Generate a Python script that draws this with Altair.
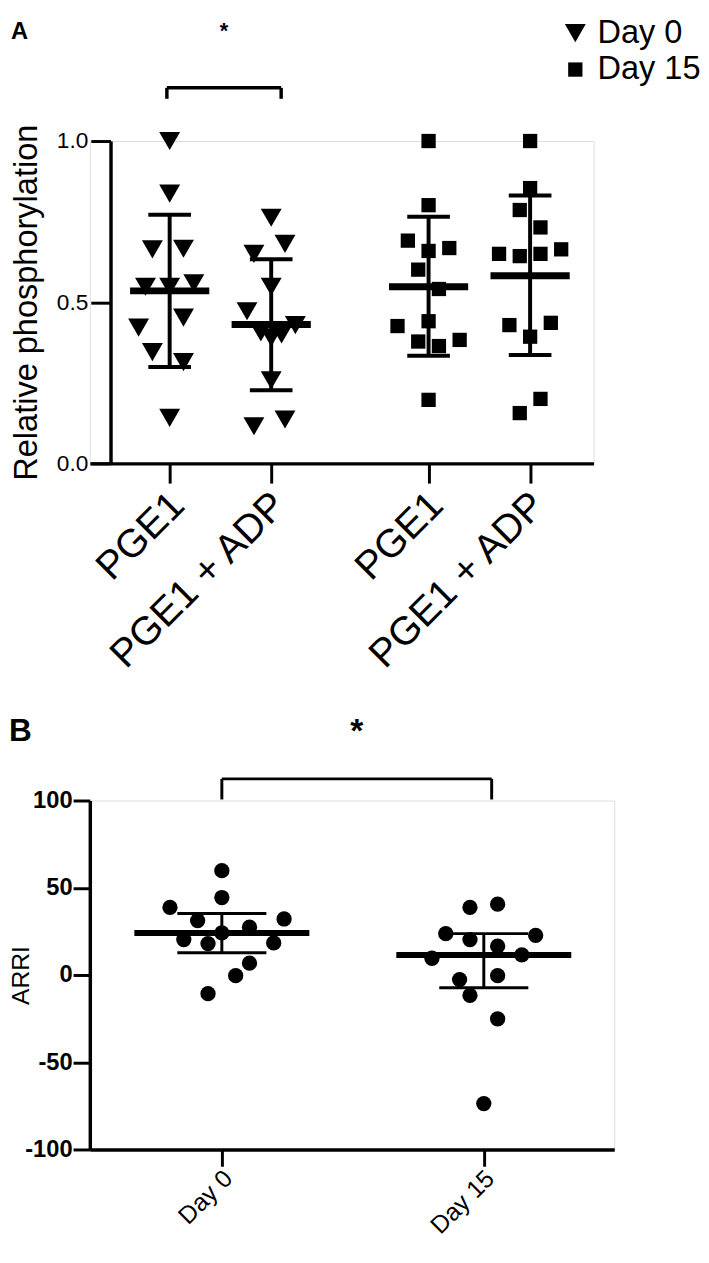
import altair as alt
import pandas as pd

FONT = "Liberation Sans"

# ---------------- Panel A : relative phosphorylation ----------------
A_LABELS = ["PGE1", "PGE1 + ADP", "PGE1", "PGE1 + ADP"]
A_DAYS = ["Day 0", "Day 0", "Day 15", "Day 15"]

A_D0_PGE1 = [1.00, 0.837, 0.664, 0.666, 0.548, 0.548, 0.559, 0.452, 0.421, 0.345, 0.314, 0.141]
A_D0_PGE1_ADP = [0.762, 0.681, 0.650, 0.548, 0.472, 0.429, 0.406, 0.390, 0.400, 0.258, 0.115, 0.136]
A_D15_PGE1 = [1.00, 0.801, 0.691, 0.668, 0.659, 0.601, 0.541, 0.426, 0.441, 0.378, 0.364, 0.383, 0.197]
A_D15_PGE1_ADP = [1.00, 0.854, 0.786, 0.732, 0.650, 0.643, 0.650, 0.664, 0.429, 0.436, 0.393, 0.200, 0.156]

# horizontal scatter slot of each point (scatter-dot-plot spreading)
A_D0_PGE1_SPREAD = [0, 0, -5, 4, -7, 0, 7, 4, -9, -5, 4, 0]
A_D0_PGE1_ADP_SPREAD = [0, 4, -5, 0, -7, 7, -3, 0, 3, 0, -5, 4]
A_D15_PGE1_SPREAD = [0, 0, -6, 6, 0, -3, 3, -9, 0, -3, 3, 9, 0]
A_D15_PGE1_ADP_SPREAD = [0, 0, -3, 3, -9, -3, 3, 9, -6, 6, 0, 3, -3]

A_MEAN = [0.535, 0.431, 0.548, 0.582]
A_SD_LOW = [0.299, 0.227, 0.334, 0.336]
A_SD_HIGH = [0.771, 0.633, 0.765, 0.831]

# ---------------- Panel B : ARRI ----------------
B_LABELS = ["Day 0", "Day 15"]
B_DAY0 = [59.8, 44.4, 38.7, 31.2, 32.1, 27.4, 24.1, 20.3, 18.0, 18.4, 6.8, -0.4, -10.7]
B_DAY15 = [38.7, 40.6, 23.7, 22.7, 20.3, 16.5, 9.6, 11.5, -0.4, -2.6, -11.7, -25.2, -73.7]
B_DAY0_SPREAD = [0, 0, -15, -7, 18, 8, 0, -11, -4, 15, 8, 4, -4]
B_DAY15_SPREAD = [-4, 4, -11, 15, -4, 4, -15, 11, 4, -7, -4, 4, 0]
B_MEDIAN = [24.1, 11.5]
B_Q1 = [12.8, -7.3]
B_Q3 = [35.3, 23.7]

# ---------------- layout constants ----------------
A_POS = [1.0, 2.0, 3.55, 4.55]
A_DOMAIN = [0.2136, 5.1748]
A_STEP = 0.034
A_MEAN_HALF = 0.39
A_CAP_HALF = 0.21

B_POS = [1.0, 2.0]
B_DOMAIN = [0.496, 2.498]
B_STEP = 0.0132
B_MED_HALF = 0.334
B_CAP_HALF = 0.17

# ---------------- build tables ----------------
rows = []
for g, (vals, spr) in enumerate([(A_D0_PGE1, A_D0_PGE1_SPREAD), (A_D0_PGE1_ADP, A_D0_PGE1_ADP_SPREAD),
                                  (A_D15_PGE1, A_D15_PGE1_SPREAD), (A_D15_PGE1_ADP, A_D15_PGE1_ADP_SPREAD)]):
    for v, s in zip(vals, spr):
        rows.append({"x": A_POS[g] + s * A_STEP, "value": v, "day": A_DAYS[g]})
dfA = pd.DataFrame(rows)

sumA = pd.DataFrame({
    "pos": A_POS, "mean": A_MEAN, "lo": A_SD_LOW, "hi": A_SD_HIGH,
    "mL": [p - A_MEAN_HALF for p in A_POS], "mR": [p + A_MEAN_HALF for p in A_POS],
    "cL": [p - A_CAP_HALF for p in A_POS], "cR": [p + A_CAP_HALF for p in A_POS],
})

rowsB = []
for g, (vals, spr) in enumerate([(B_DAY0, B_DAY0_SPREAD), (B_DAY15, B_DAY15_SPREAD)]):
    for v, s in zip(vals, spr):
        rowsB.append({"x": B_POS[g] + s * B_STEP, "value": v})
dfB = pd.DataFrame(rowsB)

sumB = pd.DataFrame({
    "pos": B_POS, "med": B_MEDIAN, "lo": B_Q1, "hi": B_Q3,
    "mL": [p - B_MED_HALF for p in B_POS], "mR": [p + B_MED_HALF for p in B_POS],
    "cL": [p - B_CAP_HALF for p in B_POS], "cR": [p + B_CAP_HALF for p in B_POS],
})

# significance brackets
BRACKET_A_X = [0.9725, 2.098]
BRACKET_A_Y = [1.131, 1.165]
STAR_A = (1.534, 1.34)
BRACKET_B_X = [1.0, 2.03]
BRACKET_B_Y = [100.6, 112.4]
STAR_B = (1.515, 139)


def bracket_df(xs, ys):
    return pd.DataFrame({
        "x": [xs[0], xs[0], xs[1]], "x2": [xs[1], xs[0], xs[1]],
        "y": [ys[1], ys[0], ys[0]], "y2": [ys[1], ys[1], ys[1]],
    })


def label_expr(pos, labels):
    expr = "''"
    for p, l in reversed(list(zip(pos, labels))):
        expr = f"abs(datum.value - {p}) < 0.01 ? '{l}' : ({expr})"
    return expr


LEG = alt.Legend(title=None, orient="none", legendX=476, legendY=-126,
                 labelFontSize=33, labelFont=FONT, labelColor="black",
                 symbolFillColor="black", symbolStrokeColor="black",
                 rowPadding=3, labelOffset=6, padding=0)

# ---------------- Panel A ----------------
axA_x = alt.Axis(values=A_POS, labelExpr=label_expr(A_POS, A_LABELS), title=None,
                 labelAngle=-45, labelAlign="right", labelBaseline="middle",
                 labelOverlap=False, labelBound=False, labelFlush=False, labelLimit=500,
                 labelFontSize=40, labelFont=FONT, labelColor="black", labelPadding=16, labelOffset=8,
                 domainColor="black", domainWidth=3.5, tickColor="black", tickWidth=3,
                 tickSize=20, grid=False)
axA_y = alt.Axis(values=[0, 0.5, 1.0], format=".1f", title="Relative phosphorylation", offset=-21,
                 titleFontSize=33, titleFont=FONT, titleFontWeight="normal", titleColor="black",
                 titleX=-85, titleY=163.5, titleAngle=-90, titleAlign="center", titleBaseline="middle",
                 labelFontSize=23, labelFont=FONT, labelColor="black",
                 labelPadding=3, labelOverlap=False, domainColor="black", domainWidth=3.5,
                 tickColor="black", tickWidth=3, tickSize=20, grid=False)

xA = alt.X("x:Q", scale=alt.Scale(domain=A_DOMAIN, nice=False, zero=False), axis=axA_x)
yA = alt.Y("value:Q", scale=alt.Scale(domain=[0, 1], nice=False), axis=axA_y)

ptsA = alt.Chart(dfA).mark_point(filled=True, opacity=1, color="black", clip=False).encode(
    x=xA, y=yA,
    shape=alt.Shape("day:N", scale=alt.Scale(domain=["Day 0", "Day 15"], range=["triangle-down", "square"]),
                    legend=LEG),
    size=alt.Size("day:N", scale=alt.Scale(domain=["Day 0", "Day 15"], range=[450, 210]), legend=LEG),
)

baseSA = alt.Chart(sumA)
whiskA = baseSA.mark_rule(color="black", strokeWidth=4).encode(x=alt.X("pos:Q"), y=alt.Y("lo:Q"), y2="hi:Q")
capLoA = baseSA.mark_rule(color="black", strokeWidth=4).encode(x=alt.X("cL:Q"), x2="cR:Q", y=alt.Y("lo:Q"))
capHiA = baseSA.mark_rule(color="black", strokeWidth=4).encode(x=alt.X("cL:Q"), x2="cR:Q", y=alt.Y("hi:Q"))
meanA = baseSA.mark_rule(color="black", strokeWidth=7).encode(x=alt.X("mL:Q"), x2="mR:Q", y=alt.Y("mean:Q"))

brA = alt.Chart(bracket_df(BRACKET_A_X, BRACKET_A_Y)).mark_rule(color="black", strokeWidth=3.5, clip=False).encode(
    x="x:Q", x2="x2:Q", y="y:Q", y2="y2:Q")
starA = alt.Chart(pd.DataFrame({"x": [STAR_A[0]], "y": [STAR_A[1]], "t": ["*"]})).mark_text(
    font=FONT, fontSize=22, fontWeight="bold", color="black", baseline="middle", clip=False).encode(
    x="x:Q", y="y:Q", text="t:N")

panelA = alt.layer(whiskA, capLoA, capHiA, meanA, ptsA, brA, starA).properties(
    width=511, height=327,
    title=alt.Title("A", anchor="start", frame="bounds", fontSize=24, font=FONT, fontWeight="bold",
                    color="black", offset=-24),
)

# ---------------- Panel B ----------------
axB_x = alt.Axis(values=B_POS, labelExpr=label_expr(B_POS, B_LABELS), title=None,
                 labelAngle=-45, labelAlign="right", labelBaseline="middle",
                 labelOverlap=False, labelBound=False, labelFlush=False, labelLimit=500,
                 labelFontSize=25, labelFont=FONT, labelColor="black", labelPadding=8, labelOffset=6,
                 domainColor="black", domainWidth=3.5, tickColor="black", tickWidth=3,
                 tickSize=17, grid=False)
axB_y = alt.Axis(values=[-100, -50, 0, 50, 100], title="ARRI",
                 labelExpr="datum.value < 0 ? '-' + abs(datum.value) : '' + datum.value",
                 titleFontSize=25, titleFont=FONT, titleFontWeight="normal", titleColor="black",
                 titleX=-70, titleY=177, titleAngle=-90, titleAlign="center", titleBaseline="middle",
                 labelFontSize=24, labelFont=FONT, labelFontWeight="bold",
                 labelColor="black", labelPadding=1, labelOverlap=False, domainColor="black",
                 domainWidth=3.5, tickColor="black", tickWidth=3, tickSize=17, grid=False)

xB = alt.X("x:Q", scale=alt.Scale(domain=B_DOMAIN, nice=False, zero=False), axis=axB_x)
yB = alt.Y("value:Q", scale=alt.Scale(domain=[-100, 100], nice=False), axis=axB_y)

ptsB = alt.Chart(dfB).mark_point(filled=True, opacity=1, color="black", shape="circle", size=240,
                                 clip=False).encode(x=xB, y=yB)
baseSB = alt.Chart(sumB)
whiskB = baseSB.mark_rule(color="black", strokeWidth=3).encode(x=alt.X("pos:Q"), y=alt.Y("lo:Q"), y2="hi:Q")
capLoB = baseSB.mark_rule(color="black", strokeWidth=3).encode(x=alt.X("cL:Q"), x2="cR:Q", y=alt.Y("lo:Q"))
capHiB = baseSB.mark_rule(color="black", strokeWidth=3).encode(x=alt.X("cL:Q"), x2="cR:Q", y=alt.Y("hi:Q"))
medB = baseSB.mark_rule(color="black", strokeWidth=6).encode(x=alt.X("mL:Q"), x2="mR:Q", y=alt.Y("med:Q"))

brB = alt.Chart(bracket_df(BRACKET_B_X, BRACKET_B_Y)).mark_rule(color="black", strokeWidth=3, clip=False).encode(
    x="x:Q", x2="x2:Q", y="y:Q", y2="y2:Q")
starB = alt.Chart(pd.DataFrame({"x": [STAR_B[0]], "y": [STAR_B[1]], "t": ["*"]})).mark_text(
    font=FONT, fontSize=34, fontWeight="bold", color="black", baseline="middle", clip=False).encode(
    x="x:Q", y="y:Q", text="t:N")

panelB = alt.layer(whiskB, capLoB, capHiB, medB, ptsB, brB, starB).properties(
    width=532, height=354,
    title=alt.Title("B", anchor="start", frame="bounds", fontSize=32, font=FONT, fontWeight="bold",
                    color="black", offset=-33),
)

chart = alt.vconcat(panelA, panelB, spacing=38).properties(padding=0).configure_view(
    stroke=None).configure(font=FONT)

chart.save("out.html", embed_options={"renderer": "svg", "actions": False})
